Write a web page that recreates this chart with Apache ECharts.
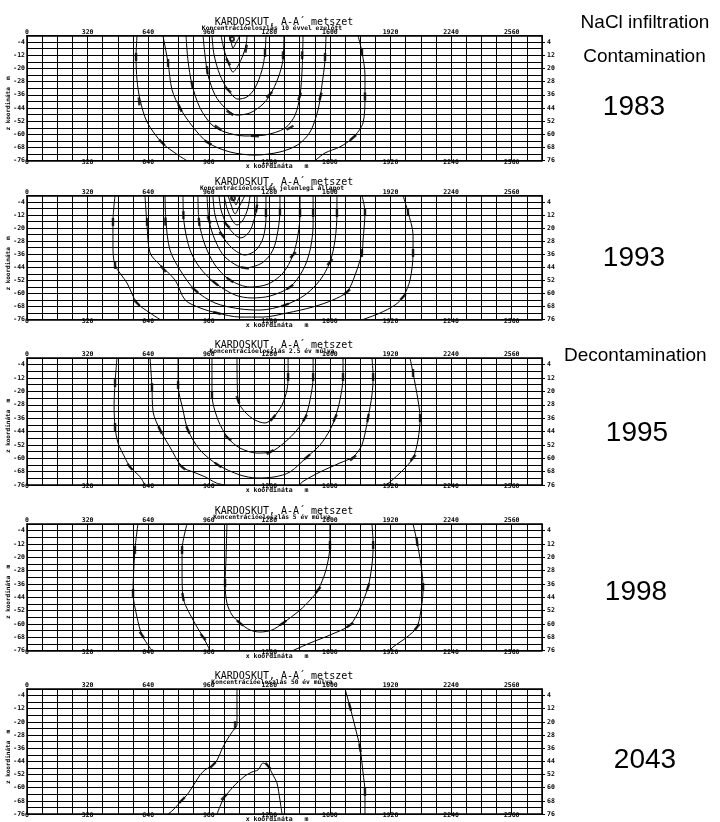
<!DOCTYPE html>
<html><head><meta charset="utf-8">
<script src="https://cdn.jsdelivr.net/npm/echarts/dist/echarts.min.js"></script>
<style>html,body{margin:0;padding:0;background:#fff}#c{width:720px;height:822px}</style>
</head><body><div id="c"></div>
<script>
// ---------- tick labels ----------
const xLabelValues = [0, 320, 640, 960, 1280, 1600, 1920, 2240, 2560];
const zLabelValues = [-4, -12, -20, -28, -36, -44, -52, -60, -68, -76];
const panelTitle = 'KARDOSKUT, A-A´ metszet';
const panelSubtitles = [
  'Koncentrációeloszlás 10 évvel ezelőtt',
  'Koncentrációeloszlás jelenlegi állapot',
  'Koncentrációeloszlás 2.5 év múlva',
  'Koncentrációeloszlás 5 év múlva',
  'Koncentrációeloszlás 50 év múlva'
];
const xAxisName = 'x koordináta   m';
const zAxisName = 'z koordináta  m';
const sideTexts = ['NaCl infiltration', 'Contamination', '1983', '1993', 'Decontamination', '1995', '1998', '2043'];

// ---------- contour lines [x (m), z (m)] ----------
// Panel 1 (10 years earlier)
const p1_A_left = [[581,0],[576,-13],[581,-27],[597,-39],[634,-52.5],[713,-65.1],[798,-72.6],[845,-76]];
const p1_A_right = [[1748,0],[1769,-10],[1785,-24],[1785,-37],[1775,-53],[1722,-62],[1653,-67.6],[1574,-71.3],[1521,-76]];
const p1_B = [[718,0],[745,-16.7],[766,-33],[808,-44],[877,-55.6],[956,-65.1],[1072,-70.7],[1204,-72.6],[1336,-70.7],[1431,-66.3],[1495,-58.6],[1537,-45.2],[1558,-30],[1574,-14.9],[1579,0]];
const p1_C = [[840,0],[850,-14.9],[872,-30],[914,-44],[977,-54.3],[1046,-58.6],[1151,-61],[1257,-60.4],[1363,-56.2],[1416,-48.3],[1442,-36.1],[1453,-21],[1458,0]];
const p1_D = [[930,0],[940,-11.8],[956,-24],[993,-36.1],[1046,-44],[1109,-48.3],[1178,-47],[1241,-42.2],[1284,-36.1],[1326,-25.8],[1352,-14.9],[1357,0]];
const p1_E = [[977,0],[988,-11.8],[1019,-24],[1062,-33],[1114,-38.6],[1162,-37.3],[1204,-31.9],[1241,-21],[1257,-10.6],[1262,0]];
const p1_F = [[1025,0],[1041,-8.8],[1062,-16.1],[1088,-22.2],[1114,-18.5],[1141,-11.8],[1157,-5.8],[1162,0]];
const p1_G = [[1067,0],[1078,-4],[1088,-7.6],[1104,-4.5],[1125,0]];
// Panel 2 (present state)
const p2_A_left = [[465,0],[454,-16.2],[454,-30.3],[465,-42.6],[528,-53.6],[581,-65.9],[650,-72],[703,-76]];
const p2_A_right = [[1986,0],[2012,-10.1],[2039,-24.2],[2039,-35.2],[2023,-51.8],[1986,-62.2],[1944,-67.1],[1865,-72],[1775,-76]];
const p2_B = [[623,0],[634,-18.1],[650,-35.2],[703,-42.6],[782,-51.8],[835,-64],[914,-68.9],[1004,-72],[1125,-74.5],[1247,-74.5],[1373,-72],[1511,-68.3],[1616,-64],[1690,-59.1],[1733,-48.7],[1769,-35.2],[1775,-27.3],[1785,-10.1],[1769,0]];
const p2_U1 = [[729,0],[734,-16.2],[755,-33.4],[808,-45.6],[887,-57.9],[993,-65.9],[1125,-69.5],[1231,-70.2],[1363,-67.1],[1468,-61],[1548,-51.8],[1600,-40.8],[1627,-27.3],[1637,-10.7],[1637,0]];
const p2_U2 = [[824,0],[829,-16.2],[861,-33.4],[914,-44.4],[993,-53.6],[1099,-61],[1188,-62.8],[1284,-61.6],[1389,-56.1],[1458,-45.6],[1495,-33.4],[1511,-18.1],[1511,0]];
const p2_U3 = [[903,0],[909,-16.2],[940,-30.3],[993,-42.6],[1072,-51.8],[1178,-56.1],[1273,-54.3],[1352,-47.5],[1405,-36.5],[1431,-24.2],[1442,-10.7],[1442,0]];
const p2_U4 = [[951,0],[961,-15],[993,-27.3],[1046,-37.7],[1151,-44.4],[1241,-41.4],[1299,-33.4],[1326,-21.1],[1336,-8.9],[1336,0]];
const p2_U5 = [[982,0],[993,-11.9],[1030,-24.2],[1083,-32.2],[1151,-36.5],[1210,-33.4],[1247,-26],[1262,-13.8],[1262,0]];
const p2_U6 = [[1014,0],[1025,-8.9],[1056,-18.1],[1099,-24.2],[1130,-26],[1173,-22.4],[1199,-15],[1215,-5.8],[1215,0]];
const p2_U7 = [[1041,0],[1056,-7.7],[1083,-15],[1109,-18.1],[1141,-15],[1167,-7.7],[1178,0]];
const p2_U8 = [[1062,0],[1078,-5.8],[1099,-11.3],[1120,-7],[1151,0]];
const p2_U9 = [[1078,0],[1093,-3.5],[1104,-5.8],[1114,-3],[1125,0]];
// Panel 3 (2.5 years later)
const p3_A_left = [[475,0],[465,-15],[460,-28.1],[465,-41.3],[481,-50.9],[518,-59.8],[544,-65.2],[597,-71.1],[623,-76]];
const p3_A_right = [[2023,0],[2039,-9],[2065,-25.1],[2076,-35.9],[2065,-49.1],[2039,-59.8],[1986,-67],[1917,-74.2],[1891,-76]];
const p3_B_left = [[650,0],[660,-17.4],[666,-32.3],[703,-43.1],[755,-53.3],[819,-65.2],[877,-68.2],[940,-71.1],[1000,-74.8],[1046,-76]];
const p3_B_right = [[1442,-76],[1453,-74.2],[1548,-68.2],[1653,-62.8],[1722,-59.2],[1769,-52],[1801,-35.9],[1822,-22.1],[1828,-11.4],[1822,0]];
const p3_U3 = [[798,0],[798,-16.2],[824,-31.1],[850,-43.1],[914,-55.1],[1009,-64],[1125,-70],[1215,-71.8],[1310,-71.1],[1389,-68.2],[1479,-59.2],[1548,-52],[1600,-43.1],[1627,-35.9],[1653,-25.1],[1669,-11.4],[1669,0]];
const p3_U2 = [[977,0],[977,-22.1],[1009,-37.1],[1062,-47.9],[1125,-53.9],[1215,-56.9],[1284,-56.3],[1363,-50.3],[1426,-43.1],[1468,-35.9],[1495,-25.1],[1511,-11.4],[1511,0]];
const p3_U1 = [[1109,0],[1114,-25.1],[1151,-32.3],[1204,-37.1],[1257,-38.9],[1299,-35.9],[1347,-28.1],[1373,-19.1],[1379,-11.4],[1379,0]];
// Panel 4 (5 years later)
const p4_A_left = [[586,0],[570,-15.6],[560,-41.5],[581,-55.9],[607,-66.7],[650,-74.5],[660,-76]];
const p4_A_right = [[2039,0],[2060,-10.8],[2081,-24.6],[2092,-37.9],[2086,-47.5],[2060,-61.9],[2007,-67.9],[1933,-73.9],[1917,-76]];
const p4_B_left = [[845,0],[819,-15.6],[819,-29.4],[824,-43.9],[877,-57.7],[930,-67.9],[967,-76]];
const p4_B_right = [[1405,-76],[1495,-71.5],[1600,-66.7],[1706,-60.7],[1759,-50.5],[1801,-37.9],[1822,-24.6],[1828,-12.6],[1822,0]];
const p4_C = [[1056,0],[1051,-21.6],[1046,-35.5],[1056,-47.5],[1083,-54.7],[1125,-59.5],[1178,-63.7],[1231,-64.9],[1294,-63.7],[1352,-59.5],[1442,-51.7],[1495,-45.7],[1537,-39.7],[1579,-27.6],[1600,-12.6],[1600,0]];
// Panel 5 (50 years later)
const p5_A = [[1109,0],[1109,-21.9],[1099,-23.7],[1072,-28],[1035,-35.3],[1004,-43.2],[982,-46.2],[940,-49.2],[914,-52.3],[887,-57.1],[845,-64.4],[819,-67.5],[771,-73.6],[745,-76]];
const p5_B = [[1004,-76],[1035,-67.5],[1088,-59.6],[1151,-52.9],[1188,-50.5],[1220,-49.2],[1247,-45],[1273,-46.8],[1299,-52.3],[1320,-57.1],[1336,-67.5],[1347,-76]];
const p5_C = [[1680,0],[1706,-10.9],[1733,-23.1],[1759,-35.9],[1775,-51.1],[1785,-62.6],[1785,-76]];

// ---------- contour value labels [x, z, rotation] ----------
const p1_labels = [[576,-13,0],[592,-40,5],[713,-65,45],[745,-16.7,0],[808,-44,25],[956,-65,60],[872,-30,10],[1009,-56,55],[1204,-61,85],[952,-21,5],[1072,-47,55],[1062,-33,45],[1062,-16,30],[1157,-8,-10],[1257,-10.6,0],[1352,-12,0],[1453,-12,0],[1574,-13,0],[1769,-10,0],[1785,-37,0],[1722,-62,-50],[1280,-36,-45],[1440,-37,-20],[1550,-37,-15],[1389,-56,-60]];
const p2_labels = [[454,-16.2,0],[465,-42.6,0],[581,-65.9,45],[2012,-10.1,0],[2039,-35.2,0],[1986,-62.2,-45],[634,-16.2,0],[720,-45,40],[1004,-72,75],[1690,-59.1,-50],[1769,-35.2,0],[1785,-10.1,0],[731,-16,0],[887,-57.9,50],[1363,-67.1,-70],[1600,-40.8,-40],[1637,-10.7,0],[826,-12,0],[993,-53.6,50],[1389,-56.1,-55],[1511,-10.7,0],[909,-16.2,5],[1072,-51.8,55],[1405,-36.5,-45],[1442,-10.7,0],[961,-15,20],[1151,-44.4,80],[1336,-10,0],[1030,-24.2,40],[1262,-10.7,0],[1056,-18.1,45],[1212,-8,-10]];
const p3_labels = [[465,-15,0],[660,-17.4,0],[798,-16.2,0],[977,-22.1,0],[1114,-25,20],[465,-41.3,0],[703,-43.1,25],[850,-43.1,25],[1062,-47.9,50],[544,-65.2,40],[819,-65.2,50],[1009,-64,55],[1379,-11.4,0],[1511,-11.4,0],[1669,-11.4,0],[1828,-11.4,0],[2039,-9,0],[1299,-35.9,-40],[1468,-35.9,-30],[1627,-35.9,-25],[1801,-35.9,-10],[2076,-35.9,0],[1284,-56.3,-60],[1479,-59.2,-50],[1722,-59.8,-50],[2039,-59.8,-40]];
const p4_labels = [[570,-15.6,0],[560,-41.5,0],[607,-66.7,35],[819,-15.6,0],[824,-43.9,10],[930,-67.9,40],[1046,-35.5,0],[1125,-59.5,50],[1352,-59.5,-55],[1537,-39.7,-40],[1600,-12.6,0],[1706,-60.7,-55],[1801,-37.9,-20],[1828,-12.6,0],[2060,-10.8,5],[2092,-37.9,0],[2060,-61.9,-40]];
const p5_labels = [[1099,-22,0],[982,-46.2,-45],[819,-67.5,-45],[1041,-65.7,-45],[1273,-46.8,40],[1706,-10.9,15],[1759,-35.9,10],[1785,-62.6,0]];
// concentration maxima (panel index, x, z)
const maxima = [[0,1083,-2.1],[1,1088,-1.7]];

const panels = [
  {contours:[p1_A_left,p1_A_right,p1_B,p1_C,p1_D,p1_E,p1_F,p1_G], labels:p1_labels},
  {contours:[p2_A_left,p2_A_right,p2_B,p2_U1,p2_U2,p2_U3,p2_U4,p2_U5,p2_U6,p2_U7,p2_U8,p2_U9], labels:p2_labels},
  {contours:[p3_A_left,p3_A_right,p3_B_left,p3_B_right,p3_U3,p3_U2,p3_U1], labels:p3_labels},
  {contours:[p4_A_left,p4_A_right,p4_B_left,p4_B_right,p4_C], labels:p4_labels},
  {contours:[p5_A,p5_B,p5_C], labels:p5_labels}
];

// ---------- layout ----------
const gridTops = [35.5, 195.5, 358, 524, 689];
const gridHeights = [125.2, 124, 127, 126.5, 125];
const GL = 27, GW = 515;
const sidePos = [[645,22.7,19,'center'],[644.5,56.7,19,'center'],[634,107,28,'center'],[634,258,28,'center'],[564,356,19,'left'],[637,433,28,'center'],[636,592,28,'center'],[645,760,28,'center']];

const smallFont = {fontSize:6.5, fontWeight:'bold', color:'#000', fontFamily:'DejaVu Sans Mono'};
const blk = {color:'#000', width:1};

const grid = [], xAxis = [], yAxis = [], series = [], graphic = [];
panels.forEach((p, i) => {
  grid.push({left:GL, top:gridTops[i], width:GW, height:gridHeights[i], show:false, containLabel:false, outerBoundsMode:'none'});
  xAxis.push({gridIndex:i, type:'value', min:0, max:2720, interval:80, position:'bottom',
    axisLine:{show:true, onZero:false, lineStyle:{color:'#000', width:1.5}}, axisTick:{show:false},
    splitLine:{show:true, lineStyle:blk},
    axisLabel:Object.assign({margin:-2, formatter:v => xLabelValues.includes(v) ? String(v) : ''}, smallFont)});
  xAxis.push({gridIndex:i, type:'value', min:0, max:2720, interval:80, position:'top',
    axisLine:{show:true, onZero:false, lineStyle:{color:'#000', width:1.5}}, axisTick:{show:false},
    splitLine:{show:false},
    axisLabel:Object.assign({margin:0, formatter:v => xLabelValues.includes(v) ? String(v) : ''}, smallFont)});
  yAxis.push({gridIndex:i, type:'value', min:-76, max:0, interval:4, position:'left',
    axisLine:{show:true, onZero:false, lineStyle:{color:'#000', width:1.5}}, axisTick:{show:false},
    splitLine:{show:true, lineStyle:blk},
    axisLabel:Object.assign({margin:2, formatter:v => zLabelValues.includes(v) ? String(v) : ''}, smallFont)});
  yAxis.push({gridIndex:i, type:'value', min:-76, max:0, interval:4, position:'right',
    axisLine:{show:true, onZero:false, lineStyle:{color:'#000', width:1.5}},
    axisTick:{show:true, length:3, customValues:zLabelValues, lineStyle:{color:'#000'}},
    splitLine:{show:false},
    axisLabel:Object.assign({margin:5, customValues:zLabelValues, formatter:v => String(Math.abs(v))}, smallFont)});
  p.contours.forEach(c => series.push({type:'line', xAxisIndex:2*i, yAxisIndex:2*i, data:c,
    showSymbol:false, symbol:'none', smooth:0.3, lineStyle:{color:'#000', width:1}, silent:true, animation:false}));
  series.push({type:'scatter', xAxisIndex:2*i, yAxisIndex:2*i, symbol:'rect', symbolSize:[2.5,8],
    itemStyle:{color:'#000'}, silent:true, animation:false,
    data:p.labels.map(l => ({value:[l[0], l[1]], symbolRotate:l[2]}))});
  const top = gridTops[i], bottom = gridTops[i] + gridHeights[i];
  graphic.push({type:'text', x:284, y:top-12.8, silent:true, style:{text:panelTitle, fill:'#000', font:'10px "DejaVu Sans Mono"', align:'center', verticalAlign:'middle'}});
  graphic.push({type:'text', x:272, y:top-6.8, silent:true, style:{text:panelSubtitles[i], fill:'#000', font:'bold 6.3px "DejaVu Sans Mono"', align:'center', verticalAlign:'middle'}});
  graphic.push({type:'text', x:277, y:bottom+5.5, silent:true, style:{text:xAxisName, fill:'#000', font:'bold 6.5px "DejaVu Sans Mono"', align:'center', verticalAlign:'middle'}});
  graphic.push({type:'text', x:8, y:top+68, rotation:Math.PI/2, silent:true, style:{text:zAxisName, fill:'#000', font:'bold 6px "DejaVu Sans Mono"', align:'center', verticalAlign:'middle'}});
});
series.push({type:'scatter', xAxisIndex:0, yAxisIndex:0, symbol:'emptyCircle', symbolSize:4, itemStyle:{color:'#000', borderColor:'#000'}, silent:true, animation:false,
  data:maxima.filter(m => m[0] === 0).map(m => [m[1], m[2]])});
series.push({type:'scatter', xAxisIndex:2, yAxisIndex:2, symbol:'emptyCircle', symbolSize:4, itemStyle:{color:'#000', borderColor:'#000'}, silent:true, animation:false,
  data:maxima.filter(m => m[0] === 1).map(m => [m[1], m[2]])});

sideTexts.forEach((t, k) => {
  const s = sidePos[k];
  graphic.push({type:'text', x:s[0], y:s[1], silent:true, style:{text:t, fill:'#000', font:s[2] + 'px "Liberation Sans"', align:s[3], verticalAlign:'middle'}});
});

const chart = echarts.init(document.getElementById('c'), null, {renderer:'canvas'});
chart.setOption({animation:false, backgroundColor:'#fff', grid, xAxis, yAxis, series, graphic});
</script></body></html>
